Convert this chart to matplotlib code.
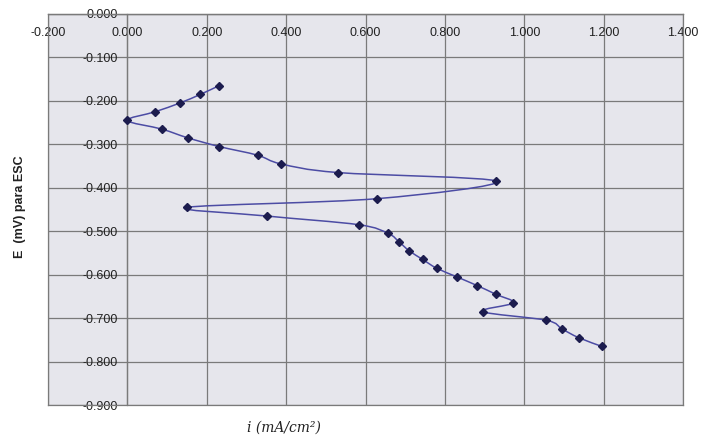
import numpy as np
import matplotlib.pyplot as plt
from matplotlib.path import Path
from matplotlib.patches import PathPatch

# densidad de corriente i (mA/cm2) y potencial E frente a ESC
corriente = [0.231, 0.184, 0.132, 0.070, 0.000, 0.087, 0.152, 0.231, 0.328, 0.387,
             0.531, 0.930, 0.630, 0.151, 0.351, 0.583, 0.657, 0.685, 0.710, 0.744,
             0.779, 0.830, 0.881, 0.928, 0.972, 0.895, 1.056, 1.095, 1.137, 1.195]
potencial = [-0.165, -0.185, -0.205, -0.225, -0.245, -0.265, -0.285, -0.305, -0.325, -0.345,
             -0.365, -0.385, -0.425, -0.445, -0.465, -0.485, -0.505, -0.525, -0.545, -0.565,
             -0.585, -0.605, -0.625, -0.645, -0.665, -0.685, -0.705, -0.725, -0.745, -0.765]

ticks_x = [-0.2, 0.0, 0.2, 0.4, 0.6, 0.8, 1.0, 1.2, 1.4]
ticks_y = [0.0, -0.1, -0.2, -0.3, -0.4, -0.5, -0.6, -0.7, -0.8, -0.9]


# smoothed line through the points (bezier segments, catmull-rom style)
def curva_suave(xs, ys, t=1 / 6):
    verts = [(xs[0], ys[0])]
    codes = [Path.MOVETO]
    n = len(xs)
    for i in range(n - 1):
        xa, ya = xs[max(i - 1, 0)], ys[max(i - 1, 0)]
        xb, yb = xs[min(i + 2, n - 1)], ys[min(i + 2, n - 1)]
        c1 = (xs[i] + (xs[i + 1] - xa) * t, ys[i] + (ys[i + 1] - ya) * t)
        c2 = (xs[i + 1] - (xb - xs[i]) * t, ys[i + 1] - (yb - ys[i]) * t)
        verts += [c1, c2, (xs[i + 1], ys[i + 1])]
        codes += [Path.CURVE4] * 3
    return Path(verts, codes)


plt.rcParams['font.family'] = ['Liberation Sans', 'DejaVu Sans']

fig = plt.figure(figsize=(7.01, 4.44), dpi=100)
ax = fig.add_axes([48 / 701, 39 / 444, 635 / 701, 391 / 444])
ax.set_facecolor('#e6e6ec')
ax.set_xlim(-0.2, 1.4)
ax.set_ylim(-0.9, 0.0)

ax.set_xticks(ticks_x)
ax.set_yticks(ticks_y)
ax.xaxis.set_major_formatter(plt.FormatStrFormatter('%.3f'))
ax.yaxis.set_major_formatter(plt.FormatStrFormatter('%.3f'))
ax.tick_params(axis='x', length=0, pad=9, labelsize=9, labelcolor='#222222')
ax.tick_params(axis='y', length=0, pad=7, labelsize=9, labelcolor='#222222')

# axes cross at the origin, like the spreadsheet chart
ax.spines['bottom'].set_position(('data', 0))
ax.spines['left'].set_position(('data', 0))
for s in ax.spines.values():
    s.set_color('#7a7a7a')
    s.set_linewidth(0.9)

ax.grid(True, color='#7a7a7a', linewidth=0.9)
ax.set_axisbelow(True)
# outer frame on the sides left free by the moved spines
ax.axhline(-0.9, color='#7a7a7a', linewidth=0.9, clip_on=False, zorder=1)
ax.axvline(-0.2, color='#7a7a7a', linewidth=0.9, clip_on=False, zorder=1)

ax.add_patch(PathPatch(curva_suave(corriente, potencial), facecolor='none',
                       edgecolor='#4c4ca4', linewidth=1.1, zorder=3))
ax.plot(corriente, potencial, linestyle='none', marker='D', markersize=3.6,
        color='#1c1c4e', zorder=4)

fig.text(20 / 701, 1 - 207 / 444, 'E  (mV) para ESC', rotation=90, fontsize=9,
         fontweight='bold', ha='center', va='center', color='#222222')
fig.text(284 / 701, 1 - 428 / 444, 'i (mA/cm²)', fontsize=10, style='italic',
         family='DejaVu Serif', ha='center', va='center', color='#222222')

fig.savefig('out.png', dpi=100)
